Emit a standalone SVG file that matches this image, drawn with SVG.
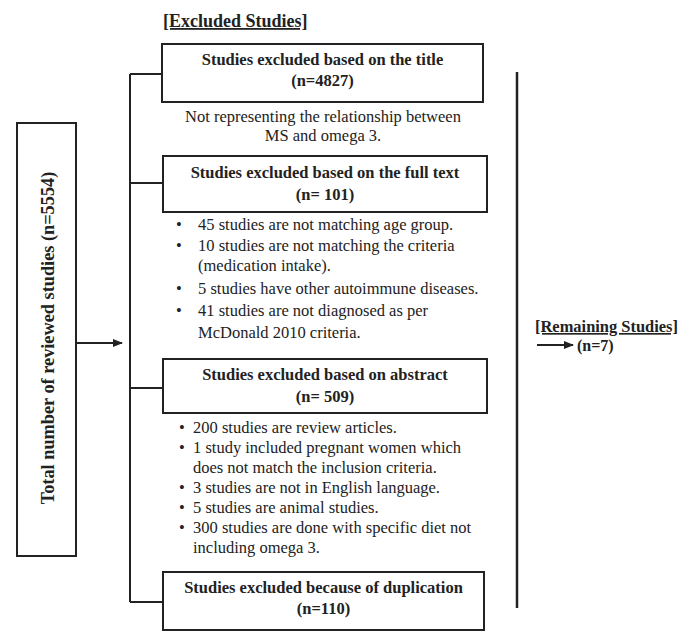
<svg xmlns="http://www.w3.org/2000/svg" width="688" height="642" viewBox="0 0 688 642">
<style>
.box{fill:#fff;stroke:#222;stroke-width:2}
.ln{fill:none;stroke:#222;stroke-width:2}
.t{font-family:"Liberation Serif","Times New Roman",serif;fill:#222}
.b{font-weight:bold;font-size:16.5px;text-anchor:middle}
.r{font-size:16.5px}
.s{font-size:16.5px}
.h{font-weight:bold;font-size:18px;text-decoration:underline}
</style>
<defs>
<marker id="ah" markerWidth="10" markerHeight="8" refX="9" refY="4" orient="auto" markerUnits="userSpaceOnUse">
<path d="M0,0 L10,4 L0,8 Z" fill="#222"/>
</marker>
</defs>
<rect width="688" height="642" fill="#fff"/>

<g id="connectors">
<path class="ln" d="M130,74 V602"/>
<path class="ln" d="M130,74 H162 M130,183 H163 M130,388 H163 M130,602 H163"/>
<path class="ln" d="M76,343 H122" marker-end="url(#ah)"/>
<path fill="none" stroke="#222" stroke-width="2.5" d="M517,72 V608"/>
<path class="ln" d="M537,345 H573" stroke-width="1.5" marker-end="url(#ah)"/>
</g>

<g id="header">
<text class="t h" x="163" y="27">[Excluded Studies]</text>
</g>

<g id="total">
<rect class="box" x="17" y="123" width="59" height="433"/>
<text class="t" font-weight="bold" font-size="18.3" text-anchor="middle" transform="translate(54,338) rotate(-90)">Total number of reviewed studies (n=5554)</text>
</g>

<g id="title">
<rect class="box" x="162" y="44" width="321" height="58"/>
<text class="t b" x="322.5" y="65">Studies excluded based on the title</text>
<text class="t b" x="322.5" y="86">(n=4827)</text>
<text class="t r" x="323" y="122" text-anchor="middle">Not representing the relationship between</text>
<text class="t r" x="323" y="141" text-anchor="middle">MS and omega 3.</text>
</g>

<g id="fulltext">
<rect class="box" x="163" y="156" width="324" height="56"/>
<text class="t b" x="325" y="178">Studies excluded based on the full text</text>
<text class="t b" x="325" y="200">(n= 101)</text>
<g class="t r">
<text x="176" y="230">•</text><text x="198" y="230">45 studies are not matching age group.</text>
<text x="176" y="251">•</text><text x="198" y="251">10 studies are not matching the criteria</text>
<text x="198" y="271">(medication intake).</text>
<text x="176" y="294">•</text><text x="198" y="294">5 studies have other autoimmune diseases.</text>
<text x="176" y="316">•</text><text x="198" y="316">41 studies are not diagnosed as per</text>
<text x="198" y="338">McDonald 2010 criteria.</text>
</g>
</g>

<g id="abstract">
<rect class="box" x="163" y="359" width="324" height="54"/>
<text class="t b" x="325" y="380">Studies excluded based on abstract</text>
<text class="t b" x="325" y="402">(n= 509)</text>
<g class="t s">
<text x="179" y="433">•</text><text x="193" y="433">200 studies are review articles.</text>
<text x="179" y="453">•</text><text x="193" y="453">1 study included pregnant women which</text>
<text x="193" y="473">does not match the inclusion criteria.</text>
<text x="179" y="493">•</text><text x="193" y="493">3 studies are not in English language.</text>
<text x="179" y="513">•</text><text x="193" y="513">5 studies are animal studies.</text>
<text x="179" y="533">•</text><text x="193" y="533">300 studies are done with specific diet not</text>
<text x="193" y="553">including omega 3.</text>
</g>
</g>

<g id="duplication">
<rect class="box" x="163" y="572" width="321" height="58"/>
<text class="t b" x="323.5" y="593">Studies excluded because of duplication</text>
<text class="t b" x="323.5" y="614">(n=110)</text>
</g>

<g id="remaining">
<text class="t" font-weight="bold" font-size="16.5" text-decoration="underline" x="535" y="332" textLength="143" lengthAdjust="spacingAndGlyphs">[Remaining Studies]</text>
<text class="t" font-weight="bold" font-size="16" x="577" y="351">(n=7)</text>
</g>
</svg>
